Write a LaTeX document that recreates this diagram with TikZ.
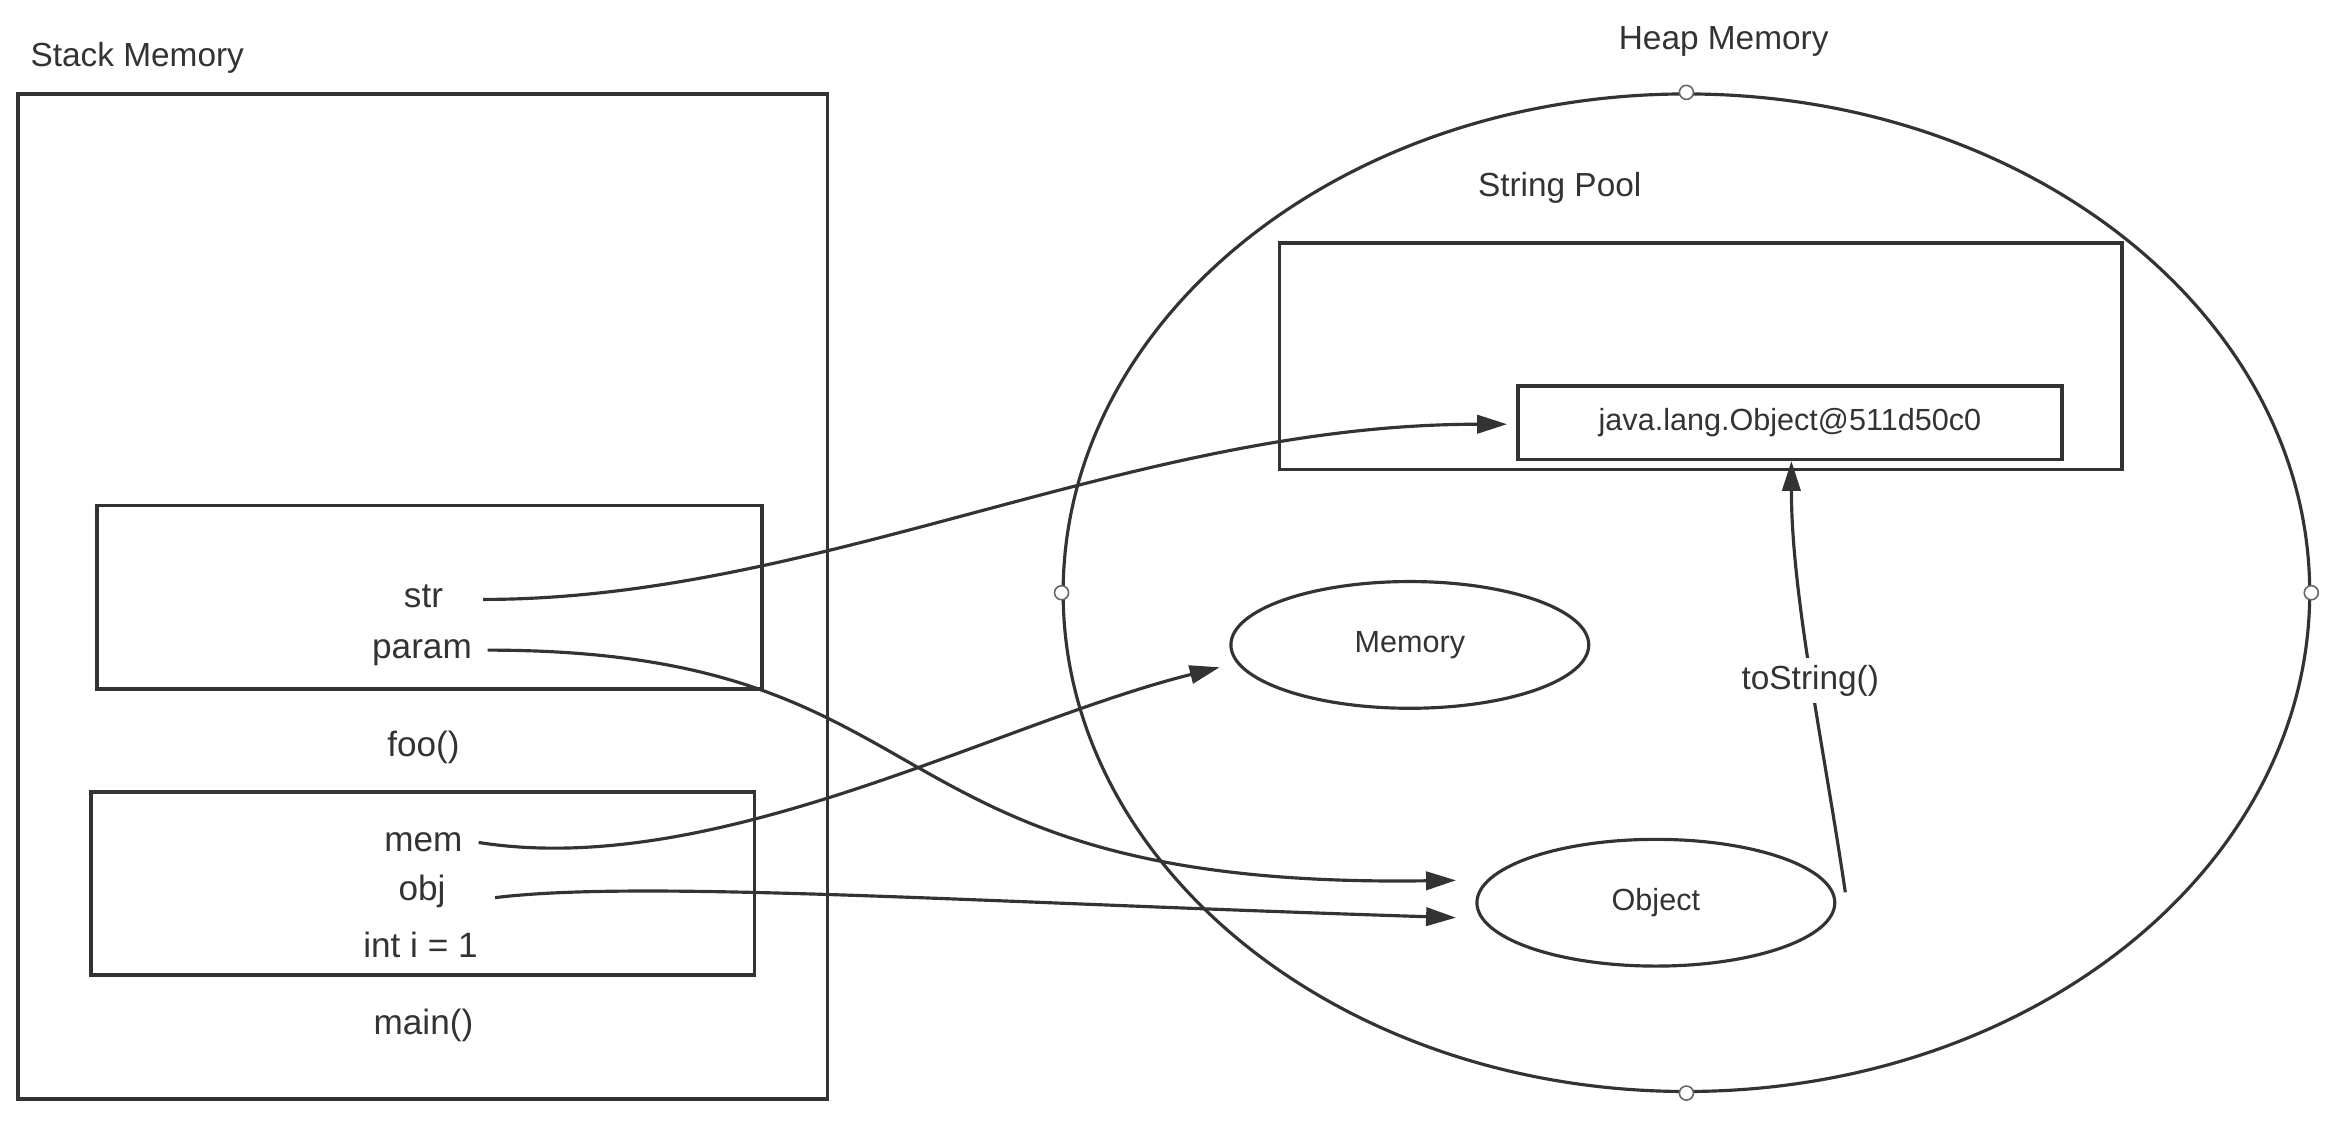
\documentclass[tikz,border=0pt]{standalone}
\usepackage{fontspec}
\setmainfont{Liberation Sans}
\usetikzlibrary{
    arrows.meta,
    positioning,
    calc,
    shapes.geometric
}
\definecolor{inkgray}{HTML}{333333}
\newcommand{\pxlen}{0.01491cm}
\tikzset{
    % Colors
    ink color/.style={inkgray},
    %
    % Frames and blobs
    box size/.style 2 args={minimum width=#1*\pxlen,minimum height=#2*\pxlen},
    frame/.style={rectangle,draw=inkgray,line width=1pt,inner sep=0pt},
    blob/.style={ellipse,draw=inkgray,line width=.9pt,inner sep=0pt},
    handle/.style={circle,draw=black!60,fill=white,line width=.45pt,inner sep=0pt,minimum size=4pt},
    %
    % Texts
    title text/.style={text=inkgray,font=\fontsize{9.5}{11}\selectfont,inner sep=0pt},
    var text/.style={text=inkgray,font=\fontsize{10}{12}\selectfont,inner sep=0pt},
    small text/.style={text=inkgray,font=\fontsize{8.7}{10}\selectfont,inner sep=0pt},
    %
    % Arrows
    arrow tip/.tip={Triangle[length=8.5pt,width=5.2pt]},
    arr/.style={->,>={arrow tip},draw=inkgray,line width=.9pt}
}
\tikzstyle{every node}=[font=\small]

\begin{document}
\begin{tikzpicture}[x=\pxlen,y=-\pxlen]
    \useasboundingbox (0,0) rectangle (1568,755);
    % Stack side
    \node[frame,box size={543}{674}] (stack) at (283.5,400) {};
    \node[title text,anchor=west] (stack title) at (20,39) {Stack Memory};
    \node[frame,box size={446}{123}] (foo frame) at (288,400.5) {};
    \node[frame,box size={445}{123}] (main frame) at (283.5,592.5) {};
    \node[var text] (str) at (284,400) {str};
    \node[var text] (param) at (283,438) {param};
    \node[var text] (foo) at (284,501) {foo()};
    \node[var text] (mem) at (284,565) {mem};
    \node[var text] (obj) at (283,598) {obj};
    \node[var text] (int) at (282,634) {int i = 1};
    \node[var text] (main) at (284,688) {main()};
    % Heap side
    \node[blob,box size={836}{669}] (heap) at (1131,397.5) {};
    \node[title text] (heap title) at (1156,28) {Heap Memory};
    \node[title text] (pool title) at (1046,126) {String Pool};
    \node[frame,box size={565}{152}] (pool) at (1140.5,239) {};
    \node[frame,box size={365}{49},small text] (strval) at (1200.4,283.5) {java.lang.Object@511d50c0};
    \node[blob,box size={240}{85},small text] (memory) at (945.5,432.5) {Memory};
    \node[blob,box size={240}{85},small text] (object) at (1110.5,605.4) {Object};
    \foreach \side in {north,south,west,east}
        \node[handle] (handle \side) at (heap.\side) {};
    % References
    \draw[arr] ($(str)+(40,2)$) .. controls +(226,0) and +(-251,0) .. ($(strval.west)+(-6,1)$);
    \draw[arr] ($(param)+(44,-2)$) .. controls +(318,0) and +(-404,6) .. ($(object.west)+(-13,-15)$);
    \draw[arr] ($(mem)+(37,0)$) .. controls +(159,25) and +(-150,37.5) .. ($(memory.west)+(-6.5,15)$);
    \draw[arr] ($(obj)+(49,4)$) .. controls +(98,-12) and +(-327.6,-10.4) .. ($(object.west)+(-13,10)$);
    \draw[arr] ($(object.east)+(6,-7)$) .. controls +(-14.5,-98.4) and +(0,90) .. ($(strval.south)+(1,0)$)
        node[pos=.5,fill=white,title text,inner sep=2pt,yshift=-2.5pt] (tostring) {toString()};
\end{tikzpicture}
\end{document}
